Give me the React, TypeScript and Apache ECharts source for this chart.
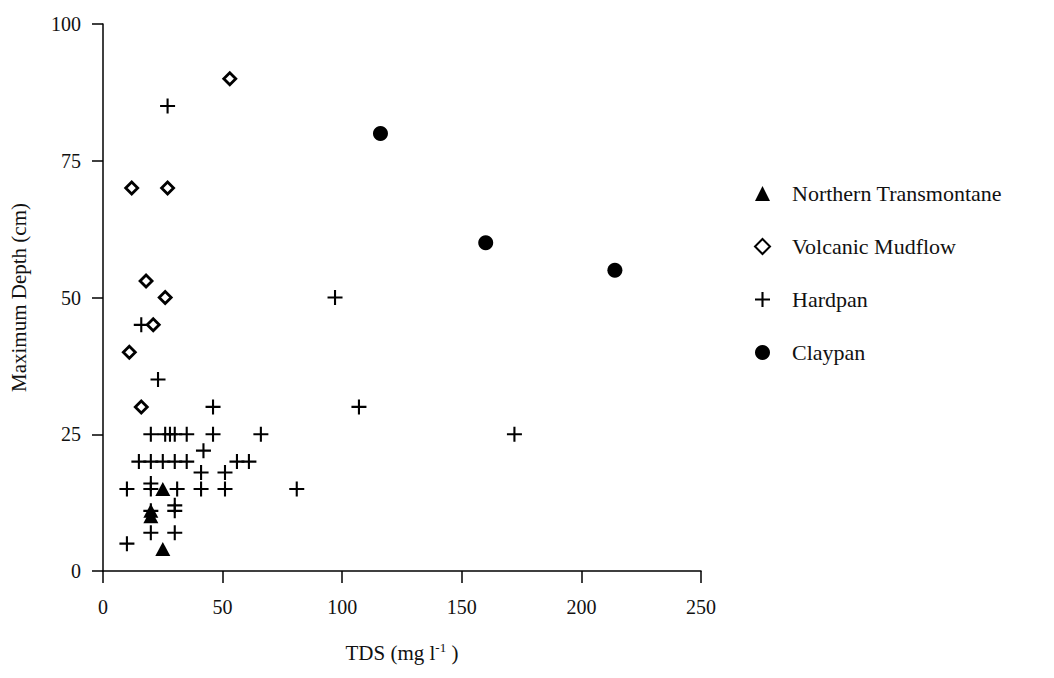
import React, { useEffect, useRef } from 'react';
import * as echarts from 'echarts';

// Data: [TDS (mg/l), Maximum Depth (cm)]
const northernTransmontane = [[25, 15], [20, 11], [20, 10], [25, 4]];
const volcanicMudflow = [[53, 90], [12, 70], [27, 70], [18, 53], [26, 50], [21, 45], [11, 40], [16, 30]];
const hardpan = [
  [27, 85], [97, 50], [16, 45], [23, 35], [46, 30], [107, 30],
  [20, 25], [26, 25], [28, 25], [30, 25], [35, 25], [46, 25], [66, 25], [172, 25],
  [42, 22],
  [15, 20], [20, 20], [25, 20], [30, 20], [35, 20], [56, 20], [61, 20],
  [41, 18], [51, 18],
  [10, 15], [20, 15], [31, 15], [41, 15], [51, 15], [81, 15], [20, 16],
  [30, 12], [30, 11], [20, 11], [20, 7], [30, 7], [10, 5],
];
const claypan = [[116, 80], [160, 60], [214, 55]];

const seriesNames = ['Northern Transmontane', 'Volcanic Mudflow', 'Hardpan', 'Claypan'];
const xTicks = { min: 0, max: 250, interval: 50 };
const yTicks = { min: 0, max: 100, interval: 25 };

const FONT = "'Liberation Serif', 'Times New Roman', serif";
const INK = '#000';
const TEXT = '#111';
const PLUS = 'path://M4.3,0h1.4v4.3h4.3v1.4h-4.3v4.3h-1.4v-4.3h-4.3v-1.4h4.3z';

export default function App() {
  const ref = useRef<HTMLDivElement>(null);
  useEffect(() => {
    const chart = echarts.init(ref.current!, null, { renderer: 'svg' });
    chart.setOption({
      animation: false,
      backgroundColor: '#fff',
      textStyle: { fontFamily: FONT, color: TEXT },
      grid: { left: 103, top: 24, width: 598, height: 547, containLabel: false },
      legend: {
        orient: 'vertical',
        left: 749,
        top: 177,
        itemGap: 30,
        itemWidth: 15,
        itemHeight: 15,
        data: seriesNames,
        textStyle: { fontSize: 22, fontFamily: FONT, color: TEXT, lineHeight: 23, padding: [0, 0, 0, 17] },
      },
      xAxis: {
        type: 'value',
        ...xTicks,
        name: 'TDS (mg l{sup|-1} )',
        nameLocation: 'middle',
        nameGap: 70,
        nameTextStyle: {
          fontSize: 21, fontFamily: FONT, color: TEXT,
          rich: { sup: { fontSize: 13, fontFamily: FONT, color: TEXT, padding: [0, 0, 10, 0] } },
        },
        axisLine: { lineStyle: { color: INK, width: 1.5 } },
        axisTick: { show: true, length: 12, lineStyle: { color: INK, width: 1.5 } },
        axisLabel: { fontSize: 20, fontFamily: FONT, color: TEXT, margin: 26 },
        splitLine: { show: false },
      },
      yAxis: {
        type: 'value',
        ...yTicks,
        name: 'Maximum Depth (cm)',
        nameLocation: 'middle',
        nameGap: 74,
        nameTextStyle: { fontSize: 21, fontFamily: FONT, color: TEXT },
        axisLine: { lineStyle: { color: INK, width: 1.5 } },
        axisTick: { show: true, length: 11, lineStyle: { color: INK, width: 1.5 } },
        axisLabel: { fontSize: 20, fontFamily: FONT, color: TEXT, margin: 22 },
        splitLine: { show: false },
      },
      series: [
        {
          name: 'Hardpan', type: 'scatter', data: hardpan, symbol: PLUS, symbolSize: 15,
          itemStyle: { color: INK, opacity: 1 },
        },
        {
          name: 'Volcanic Mudflow', type: 'scatter', data: volcanicMudflow, symbol: 'diamond', symbolSize: 12,
          itemStyle: { color: '#fff', borderColor: INK, borderWidth: 2.8, opacity: 1 },
        },
        {
          name: 'Claypan', type: 'scatter', data: claypan, symbol: 'circle', symbolSize: 15,
          itemStyle: { color: INK, opacity: 1 },
        },
        {
          name: 'Northern Transmontane', type: 'scatter', data: northernTransmontane, symbol: 'triangle', symbolSize: [15, 14],
          itemStyle: { color: INK, opacity: 1 },
        },
      ],
    });
    return () => chart.dispose();
  }, []);
  return <div ref={ref} style={{ position: 'fixed', left: 0, top: 0, width: 1054, height: 678 }} />;
}
